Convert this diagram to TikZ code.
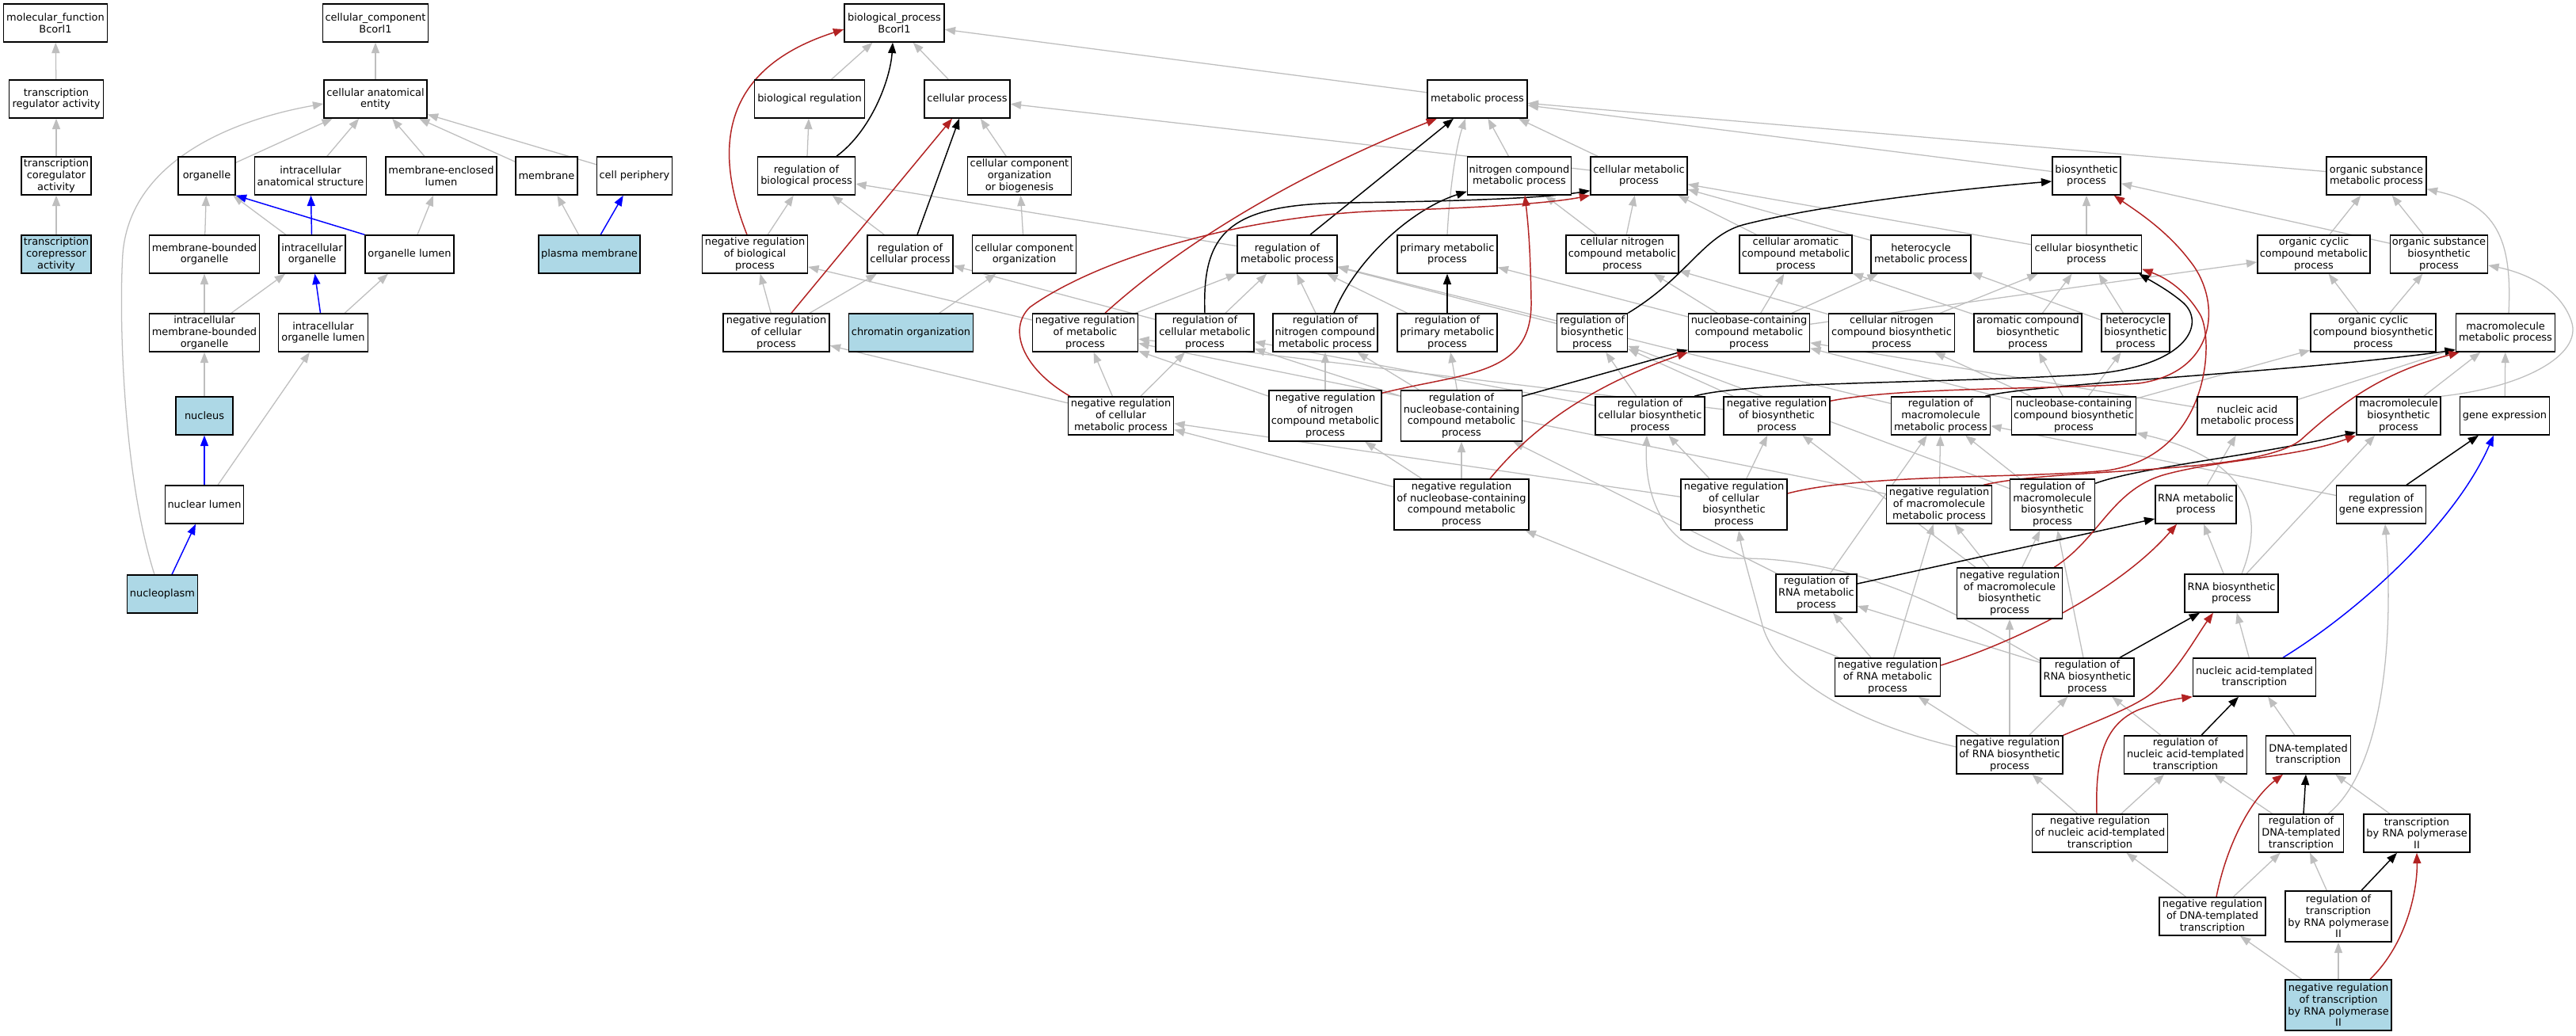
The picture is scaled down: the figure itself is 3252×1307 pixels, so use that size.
\documentclass[tikz,border=0pt]{standalone}
\usepackage{fontspec}
\setmainfont{DejaVu Sans}
\usetikzlibrary{arrows.meta,backgrounds,calc}
\definecolor{eg}{RGB}{190,190,190}
\definecolor{ered}{RGB}{178,34,34}
\definecolor{eblue}{RGB}{0,0,255}
\definecolor{nblue}{RGB}{173,216,230}
\begin{document}
\begin{tikzpicture}[x=0.75pt,y=-0.75pt,
 term/.style={draw=black,line width=1.1pt,fill=white,rectangle,align=center,inner xsep=1pt,inner ysep=1pt,minimum height=36pt,font=\fontsize{9.7}{11}\selectfont},
 hit/.style={term,fill=nblue},
 tall/.style={minimum height=48pt},
 bw/.style={minimum width=#1*0.75pt},
 tip/.style={-{Triangle[length=10pt,width=7.5pt]}},
 ga/.style={draw=eg,line width=0.95pt,tip},
 ka/.style={draw=black,line width=1.1pt,tip},
 ra/.style={draw=ered,line width=1.1pt,tip},
 ba/.style={draw=eblue,line width=1.1pt,tip}]
\useasboundingbox (0,0) rectangle (3252,1307);
% ---------- molecular function ----------
\node[term,bw=131] (mf) at (70,29) {molecular\_function\\Bcorl1};
\node[term,bw=119] (tra) at (71,125) {transcription\\regulator activity};
\node[term,bw=88] (tca) at (71,222) {transcription\\coregulator\\activity};
\node[hit,bw=88] (tcr) at (71,321) {transcription\\corepressor\\activity};
% ---------- cellular component ----------
\node[term,bw=133] (cc) at (474,29) {cellular\_component\\Bcorl1};
\node[term,bw=130] (cae) at (474,125) {cellular anatomical\\entity};
\node[term,bw=72] (org) at (261,222) {organelle};
\node[term,bw=141] (ias) at (392,222) {intracellular\\anatomical structure};
\node[term,bw=140] (mel) at (557,222) {membrane-enclosed\\lumen};
\node[term,bw=78] (mem) at (690,222) {membrane};
\node[term,bw=95] (cper) at (801,222) {cell periphery};
\node[term,bw=139] (mbo) at (258,321) {membrane-bounded\\organelle};
\node[term,bw=84] (io) at (394,321) {intracellular\\organelle};
\node[term,bw=112] (ol) at (517,321) {organelle lumen};
\node[hit,bw=128] (pm) at (744,321) {plasma membrane};
\node[term,bw=139] (imbo) at (258,420) {intracellular\\membrane-bounded\\organelle};
\node[term,bw=113] (iol) at (408,420) {intracellular\\organelle lumen};
\node[hit,bw=72] (nucleus) at (258,525) {nucleus};
\node[term,bw=99] (nlumen) at (258,637) {nuclear lumen};
\node[hit,bw=89] (nplasm) at (205,750) {nucleoplasm};
% ---------- biological process ----------
\node[term,bw=126] (bp) at (1129,29) {biological\_process\\Bcorl1};
\node[term,bw=139] (breg) at (1022,125) {biological regulation};
\node[term,bw=108] (cproc) at (1221,125) {cellular process};
\node[term,bw=126] (metab) at (1865,125) {metabolic process};
\node[term,bw=123] (rbp) at (1018,222) {regulation of\\biological process};
\node[term,bw=131] (ccob) at (1287,222) {cellular component\\organization\\or biogenesis};
\node[term,bw=131] (ncmp) at (1918,222) {nitrogen compound\\metabolic process};
\node[term,bw=122] (cmp) at (2069,222) {cellular metabolic\\process};
\node[term,bw=86] (bsp) at (2634,222) {biosynthetic\\process};
\node[term,bw=126] (osmp) at (3000,222) {organic substance\\metabolic process};
\node[term,bw=133] (nrbp) at (953,321) {negative regulation\\of biological\\process};
\node[term,bw=108] (rcp) at (1149,321) {regulation of\\cellular process};
\node[term,bw=131] (cco) at (1293,321) {cellular component\\organization};
\node[term,bw=126] (rmp) at (1625,321) {regulation of\\metabolic process};
\node[term,bw=126] (pmp) at (1827,321) {primary metabolic\\process};
\node[term,bw=142] (cncmp) at (2048,321) {cellular nitrogen\\compound metabolic\\process};
\node[term,bw=142] (cacmp) at (2267,321) {cellular aromatic\\compound metabolic\\process};
\node[term,bw=126] (hmp) at (2425,321) {heterocycle\\metabolic process};
\node[term,bw=139] (cbp) at (2634,321) {cellular biosynthetic\\process};
\node[term,bw=142] (occmp) at (2921,321) {organic cyclic\\compound metabolic\\process};
\node[term,bw=123] (osbp) at (3079,321) {organic substance\\biosynthetic\\process};
\node[term,bw=134] (nrcp) at (980,420) {negative regulation\\of cellular\\process};
\node[hit,bw=157] (chrom) at (1150,420) {chromatin organization};
\node[term,bw=133] (nrmp) at (1370,420) {negative regulation\\of metabolic\\process};
\node[term,bw=124] (rcmp) at (1521,420) {regulation of\\cellular metabolic\\process};
\node[term,bw=132] (rncmp) at (1673,420) {regulation of\\nitrogen compound\\metabolic process};
\node[term,bw=126] (rpmp) at (1827,420) {regulation of\\primary metabolic\\process};
\node[term,bw=89] (rbsp) at (2010,420) {regulation of\\biosynthetic\\process};
\node[term,bw=153] (nbcmp) at (2208,420) {nucleobase-containing\\compound metabolic\\process};
\node[term,bw=159] (cncbp) at (2388,420) {cellular nitrogen\\compound biosynthetic\\process};
\node[term,bw=136] (acbp) at (2560,420) {aromatic compound\\biosynthetic\\process};
\node[term,bw=86] (hbp) at (2696,420) {heterocycle\\biosynthetic\\process};
\node[term,bw=158] (occbp) at (2996,420) {organic cyclic\\compound biosynthetic\\process};
\node[term,bw=125] (mmp) at (3163,420) {macromolecule\\metabolic process};
\node[term,bw=133] (nrcmp) at (1415,525) {negative regulation\\of cellular\\metabolic process};
\node[term,tall,bw=142] (nrncmp) at (1673,525) {negative regulation\\of nitrogen\\compound metabolic\\process};
\node[term,tall,bw=153] (rnbcmp) at (1845,525) {regulation of\\nucleobase-containing\\compound metabolic\\process};
\node[term,bw=138] (rcbp) at (2083,525) {regulation of\\cellular biosynthetic\\process};
\node[term,bw=134] (nrbsp) at (2243,525) {negative regulation\\of biosynthetic\\process};
\node[term,bw=125] (rmmp) at (2450,525) {regulation of\\macromolecule\\metabolic process};
\node[term,bw=157] (nbcbp) at (2618,525) {nucleobase-containing\\compound biosynthetic\\process};
\node[term,bw=126] (namp) at (2837,525) {nucleic acid\\metabolic process};
\node[term,bw=106] (mbp) at (3028,525) {macromolecule\\biosynthetic\\process};
\node[term,bw=113] (gexp) at (3162,525) {gene expression};
\node[term,tall,bw=170] (nrnbcmp) at (1845,637) {negative regulation\\of nucleobase-containing\\compound metabolic\\process};
\node[term,tall,bw=134] (nrcbp) at (2189,637) {negative regulation\\of cellular\\biosynthetic\\process};
\node[term,bw=133] (nrmmp) at (2448,637) {negative regulation\\of macromolecule\\metabolic process};
\node[term,tall,bw=107] (rmbp) at (2591,637) {regulation of\\macromolecule\\biosynthetic\\process};
\node[term,bw=102] (rnamp) at (2772,637) {RNA metabolic\\process};
\node[term,bw=113] (rge) at (3006,637) {regulation of\\gene expression};
\node[term,bw=102] (rrnamp) at (2293,749) {regulation of\\RNA metabolic\\process};
\node[term,tall,bw=133] (nrmbp) at (2537,749) {negative regulation\\of macromolecule\\biosynthetic\\process};
\node[term,bw=118] (rnabp) at (2817,749) {RNA biosynthetic\\process};
\node[term,bw=133] (nrrnamp) at (2383,855) {negative regulation\\of RNA metabolic\\process};
\node[term,bw=118] (rrnabp) at (2635,855) {regulation of\\RNA biosynthetic\\process};
\node[term,bw=155] (nat) at (2846,855) {nucleic acid-templated\\transcription};
\node[term,bw=134] (nrrnabp) at (2537,953) {negative regulation\\of RNA biosynthetic\\process};
\node[term,bw=155] (rnat) at (2759,953) {regulation of\\nucleic acid-templated\\transcription};
\node[term,bw=107] (dt) at (2914,953) {DNA-templated\\transcription};
\node[term,bw=171] (nrnat) at (2651,1052) {negative regulation\\of nucleic acid-templated\\transcription};
\node[term,bw=107] (rdt) at (2905,1052) {regulation of\\DNA-templated\\transcription};
\node[term,bw=134] (trp2) at (3051,1052) {transcription\\by RNA polymerase\\II};
\node[term,bw=134] (nrdt) at (2793,1157) {negative regulation\\of DNA-templated\\transcription};
\node[term,tall,bw=134] (rtrp2) at (2952,1157) {regulation of\\transcription\\by RNA polymerase\\II};
\node[hit,tall,bw=134] (nrtrp2) at (2952,1269) {negative regulation\\of transcription\\by RNA polymerase\\II};

\begin{scope}[on background layer]
\fill[white] (0,0) rectangle (3252,1307);
% MF
\draw[ga] (tra) -- (mf);
\draw[ga] (tca) -- (tra);
\draw[ga] (tcr) -- (tca);
% CC
\draw[ga] (cae) -- (cc);
\draw[ga] (org) -- (cae);
\draw[ga] (ias) -- (cae);
\draw[ga] (mel) -- (cae);
\draw[ga] (mem) -- (cae);
\draw[ga] (cper) -- (cae);
\draw[ga] ($(nplasm.north)+(-10,0)$) .. controls (155,600) and (150,400) .. (155,320) .. controls (165,200) and (300,150) .. ($(cae.west)+(0,6)$);
\draw[ga] (mbo) -- (org);
\draw[ga] (io) -- (org);
\draw[ba] (io) -- (ias);
\draw[ba] (ol.north west) -- (org.south east);
\draw[ga] (ol) -- (mel);
\draw[ga] (pm) -- (mem);
\draw[ba] (pm) -- (cper);
\draw[ga] (imbo) -- (mbo);
\draw[ga] (imbo) -- (io);
\draw[ba] (iol) -- (io);
\draw[ga] (iol) -- (ol);
\draw[ga] (nucleus) -- (imbo);
\draw[ba] (nlumen) -- (nucleus);
\draw[ga] (nlumen) -- (iol);
\draw[ba] ($(nplasm.north)+(12,0)$) -- ($(nlumen.south)+(-11,0)$);
% BP gray
\draw[ga] (breg) -- (bp);
\draw[ga] (cproc) -- (bp);
\draw[ga] (metab) -- (bp);
\draw[ga] (rbp) -- (breg);
\draw[ga] (nrbp) -- (rbp);
\draw[ga] (ccob) -- (cproc);
\draw[ga] (rcp) -- (rbp);
\draw[ga] (nrcp) -- (nrbp);
\draw[ga] (nrcp) -- (rcp);
\draw[ga] (cco) -- (ccob);
\draw[ga] (chrom) -- (cco);
\draw[ga] (ncmp) -- (metab);
\draw[ga] (cmp) -- (metab);
\draw[ga] (cmp) -- (cproc);
\draw[ga] (bsp) -- (metab);
\draw[ga] (osmp) -- (metab);
\draw[ga] (pmp.north) .. controls (1830,240) and (1838,185) .. ($(metab.south)+(-15,0)$);
\draw[ga] (rmp) -- (rbp);
\draw[ga] (nrmp) -- (rmp);
\draw[ga] (nrmp) -- (nrbp);
\draw[ga] (rcmp) -- (rmp);
\draw[ga] (rcmp) -- (rcp);
\draw[ga] (nrcmp) -- (nrcp);
\draw[ga] (nrcmp) -- (nrmp);
\draw[ga] (nrcmp) -- (rcmp);
\draw[ga] (rncmp) -- (rmp);
\draw[ga] (rpmp) -- (rmp);
\draw[ga] (rbsp) -- (rmp);
\draw[ga] (cncmp) -- (ncmp);
\draw[ga] (cncmp) -- (cmp);
\draw[ga] (cacmp) -- (cmp);
\draw[ga] (hmp) -- (cmp);
\draw[ga] (cbp) -- (bsp);
\draw[ga] (cbp) -- (cmp);
\draw[ga] (occmp) -- (osmp);
\draw[ga] (osbp) -- (osmp);
\draw[ga] (osbp) -- (bsp);
\draw[ga] ($(mmp.north)+(4,0)$) .. controls (3172,300) and (3150,258) .. ($(osmp.south east)+(0,-8)$);
\draw[ga] (nbcmp) -- (pmp);
\draw[ga] (nbcmp) -- (cncmp);
\draw[ga] (nbcmp) -- (cacmp);
\draw[ga] (nbcmp) -- (hmp);
\draw[ga] (nbcmp) -- (occmp);
\draw[ga] (cncbp) -- (cncmp);
\draw[ga] (cncbp) -- (cbp);
\draw[ga] (acbp) -- (cacmp);
\draw[ga] (acbp) -- (cbp);
\draw[ga] (hbp) -- (hmp);
\draw[ga] (hbp) -- (cbp);
\draw[ga] (occbp) -- (occmp);
\draw[ga] (occbp) -- (osbp);
\draw[ga] (nrncmp) -- (rncmp);
\draw[ga] (nrncmp) -- (nrmp);
\draw[ga] (rnbcmp) -- (rncmp);
\draw[ga] (rnbcmp) -- (rpmp);
\draw[ga] (rnbcmp) -- (rcmp);
\draw[ga] (rcbp) -- (rbsp);
\draw[ga] (rcbp) -- (rcmp);
\draw[ga] (nrbsp) -- (rbsp);
\draw[ga] (nrbsp) -- (nrmp);
\draw[ga] (rmmp) -- (rmp);
\draw[ga] (nbcbp) -- (nbcmp);
\draw[ga] (nbcbp) -- (cncbp);
\draw[ga] (nbcbp) -- (acbp);
\draw[ga] (nbcbp) -- (hbp);
\draw[ga] (nbcbp) -- (occbp);
\draw[ga] (namp) -- (nbcmp);
\draw[ga] (namp) -- (mmp);
\draw[ga] (mbp) -- (mmp);
\draw[ga] (mbp.north east) .. controls (3180,490) and (3262,450) .. (3246,405) .. controls (3232,365) and (3190,345) .. ($(osbp.east)+(0,14)$);
\draw[ga] (gexp) -- (mmp);
\draw[ga] (nrnbcmp) -- (rnbcmp);
\draw[ga] (nrnbcmp) -- (nrncmp);
\draw[ga] (nrnbcmp) -- (nrcmp);
\draw[ga] (nrcbp) -- (rcbp);
\draw[ga] (nrcbp) -- (nrbsp);
\draw[ga] (nrcbp) -- (nrcmp);
\draw[ga] (nrmmp) -- (rmmp);
\draw[ga] (nrmmp) -- (nrmp);
\draw[ga] (rmbp) -- (rmmp);
\draw[ga] (rmbp) -- (rbsp);
\draw[ga] (rnamp) -- (namp);
\draw[ga] (rge) -- (rmmp);
\draw[ga] (rrnamp) -- (rmmp);
\draw[ga] (rrnamp) -- (rnbcmp);
\draw[ga] (nrmbp) -- (rmbp);
\draw[ga] (nrmbp) -- (nrbsp);
\draw[ga] (nrmbp) -- (nrmmp);
\draw[ga] (rnabp) -- (rnamp);
\draw[ga] ($(rnabp.north)+(13,0)$) .. controls (2860,650) and (2840,580) .. ($(nbcbp.south east)+(0,-3)$);
\draw[ga] ($(rnabp.north)+(19,0)$) -- ($(mbp.south)+(-30,0)$);
\draw[ga] (nrrnamp) -- (rrnamp);
\draw[ga] (nrrnamp) -- (nrmmp);
\draw[ga] (nrrnamp) -- (nrnbcmp);
\draw[ga] (rrnabp) -- (rrnamp);
\draw[ga] (rrnabp) -- (rmbp);
\draw[ga] ($(rrnabp.north west)+(0,4)$) .. controls (2450,760) and (2330,705) .. (2200,705) .. controls (2110,705) and (2075,640) .. ($(rcbp.south)+(-4,0)$);
\draw[ga] (nat) -- (rnabp);
\draw[ga] (nrrnabp) -- (nrrnamp);
\draw[ga] (nrrnabp) -- (rrnabp);
\draw[ga] (nrrnabp) -- (nrmbp);
\draw[ga] ($(nrrnabp.west)+(0,-10)$) .. controls (2350,915) and (2245,860) .. (2225,790) .. controls (2212,740) and (2200,700) .. ($(nrcbp.south)+(6,0)$);
\draw[ga] (rnat) -- (rrnabp);
\draw[ga] (dt) -- (nat);
\draw[ga] (nrnat) -- (nrrnabp);
\draw[ga] (nrnat) -- (rnat);
\draw[ga] (rdt) -- (rnat);
\draw[ga] ($(rdt.north east)+(-20,0)$) .. controls (3010,970) and (3022,800) .. ($(rge.south)+(5,0)$);
\draw[ga] (trp2) -- (dt);
\draw[ga] (nrdt) -- (nrnat);
\draw[ga] (nrdt) -- (rdt);
\draw[ga] (rtrp2) -- (rdt);
\draw[ga] (nrtrp2) -- (nrdt);
\draw[ga] (nrtrp2) -- (rtrp2);
% BP black (regulates)
\draw[ka] ($(rbp.north)+(38,0)$) .. controls (1100,165) and (1124,100) .. ($(bp.south)+(-2,0)$);
\draw[ka] ($(rcp.north)+(9,0)$) -- ($(cproc.south)+(-10,0)$);
\draw[ka] ($(rmp.north)+(29,0)$) -- ($(metab.south)+(-30,0)$);
\draw[ka] (rcmp.north) .. controls (1517,290) and (1555,258) .. (1700,256) .. controls (1850,254) and (1950,250) .. ($(cmp.south west)+(0,-6)$);
\draw[ka] ($(rncmp.north)+(11,0)$) .. controls (1710,330) and (1780,265) .. ($(ncmp.south west)+(0,-5)$);
\draw[ka] (rpmp) -- (pmp);
\draw[ka] (rbsp.north east) .. controls (2130,350) and (2150,298) .. (2200,284) .. controls (2300,258) and (2480,238) .. ($(bsp.west)+(0,7)$);
\draw[ka] ($(rnbcmp.north east)+(0,8)$) -- ($(nbcmp.south west)+(0,-3)$);
\draw[ka] ($(rcbp.north)+(56,0)$) .. controls (2200,482) and (2450,484) .. (2633,473) .. controls (2760,464) and (2785,410) .. (2757,383) .. controls (2740,368) and (2718,356) .. ($(cbp.south east)+(-4,0)$);
\draw[ka] ($(rmmp.north east)+(-7,0)$) .. controls (2560,485) and (2900,470) .. ($(mmp.south west)+(0,-3)$);
\draw[ka] ($(rmbp.north east)+(0,6)$) .. controls (2700,590) and (2850,575) .. ($(mbp.south west)+(0,-4)$);
\draw[ka] ($(rrnamp.east)+(0,-12)$) -- ($(rnamp.west)+(0,18)$);
\draw[ka] ($(rrnabp.north)+(41,0)$) -- ($(rnabp.south)+(-40,0)$);
\draw[ka] ($(rge.north)+(32,0)$) -- ($(gexp.south)+(-33,0)$);
\draw[ka] ($(rnat.north)+(20,0)$) -- ($(nat.south)+(-20,0)$);
\draw[ka] ($(rdt.north)+(3,0)$) -- ($(dt.south)+(-3,0)$);
\draw[ka] ($(rtrp2.north)+(29,0)$) -- ($(trp2.south)+(-25,0)$);
% BP red (negatively regulates)
\draw[ra] ($(nrbp.north)+(-10,0)$) .. controls (905,200) and (900,90) .. ($(bp.west)+(0,8)$);
\draw[ra] ($(nrcp.north)+(19,0)$) -- ($(cproc.south)+(-19,0)$);
\draw[ra] ($(nrmp.north)+(25,0)$) .. controls (1500,300) and (1650,215) .. ($(metab.south)+(-51,0)$);
\draw[ra] ($(nrcmp.north west)+(3,0)$) .. controls (1290,465) and (1272,415) .. (1300,388) .. controls (1380,330) and (1560,272) .. (1750,266) .. controls (1880,262) and (1960,256) .. (cmp.south west);
\draw[ra] ($(nrncmp.north east)+(0,4)$) .. controls (1850,470) and (1935,475) .. (1933,380) .. controls (1932,320) and (1930,290) .. ($(ncmp.south)+(7,0)$);
\draw[ra] ($(nrnbcmp.north)+(36,0)$) .. controls (1930,545) and (2000,490) .. (nbcmp.south west);
\draw[ra] ($(nrbsp.north east)+(0,6)$) .. controls (2400,488) and (2600,492) .. (2700,484) .. controls (2800,470) and (2805,380) .. (2765,330) .. controls (2735,290) and (2695,265) .. ($(bsp.south east)+(-9,0)$);
\draw[ra] ($(nrcbp.east)+(0,-14)$) .. controls (2350,598) and (2560,604) .. (2660,594) .. controls (2790,575) and (2795,430) .. (2778,398) .. controls (2762,370) and (2738,352) .. ($(cbp.south east)+(0,-6)$);
\draw[ra] ($(nrmmp.north east)+(-11,0)$) .. controls (2600,590) and (2850,600) .. (2905,555) .. controls (2960,505) and (3010,470) .. ($(mmp.south west)+(5,0)$);
\draw[ra] ($(nrmbp.north east)+(-11,0)$) .. controls (2650,680) and (2665,620) .. (2730,600) .. controls (2800,580) and (2900,578) .. (mbp.south west);
\draw[ra] ($(nrrnamp.east)+(0,-15)$) .. controls (2560,805) and (2680,740) .. ($(rnamp.south)+(-24,0)$);
\draw[ra] (nrrnabp.north east) .. controls (2660,905) and (2700,890) .. (2720,872) .. controls (2750,845) and (2775,800) .. ($(rnabp.south)+(-23,0)$);
\draw[ra] ($(nrnat.north)+(-4,0)$) .. controls (2645,960) and (2655,915) .. (2700,896) .. controls (2730,885) and (2750,882) .. (nat.south west);
\draw[ra] ($(nrdt.north)+(5,0)$) .. controls (2810,1070) and (2840,1010) .. ($(dt.south)+(-32,0)$);
\draw[ra] ($(nrtrp2.north)+(40,0)$) .. controls (3040,1190) and (3052,1120) .. (trp2.south);
% BP blue
\draw[ba] ($(nat.north)+(36,0)$) .. controls (2980,770) and (3100,660) .. ($(gexp.south)+(-14,0)$);
\end{scope}
\end{tikzpicture}
\end{document}
